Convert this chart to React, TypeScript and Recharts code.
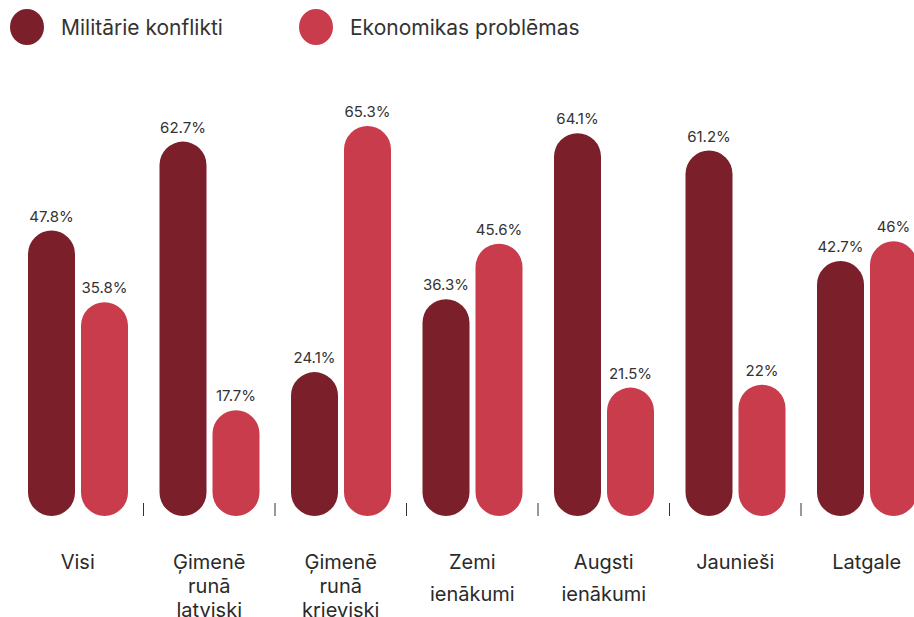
import React from 'react'
import { BarChart, Bar, XAxis, YAxis, LabelList } from 'recharts'

const categories = [
  'Visi',
  'Ģimenē runā latviski',
  'Ģimenē runā krieviski',
  'Zemi ienākumi',
  'Augsti ienākumi',
  'Jaunieši',
  'Latgale',
]
const military = [47.8, 62.7, 24.1, 36.3, 64.1, 61.2, 42.7]
const economic = [35.8, 17.7, 65.3, 45.6, 21.5, 22, 46]

const data = categories.map((name, i) => ({
  name,
  military: military[i],
  economic: economic[i],
}))

const DARK = '#7b1f2b'
const LIGHT = '#c93c4b'
const FONT = 'Inter, "Noto Sans", sans-serif'

const CHART_W = 936
const CHART_H = 617
const MARGIN = { top: 98, right: 3.5, bottom: 0, left: 12 }
const BAND = (CHART_W - MARGIN.left - MARGIN.right) / categories.length

function CategoryTick(props: any) {
  const { x, y, payload, index } = props
  const words = String(payload.value).split(' ')
  const lineH = words.length > 2 ? 24 : 32
  return (
    <g>
      {index < categories.length - 1 && (
        <line x1={x + BAND / 2} x2={x + BAND / 2} y1={y - 13} y2={y} stroke="#333" strokeWidth={1} />
      )}
      <text x={x} y={y + 53} textAnchor="middle" fill="#2a2a2a" fontSize={20} fontFamily={FONT}>
        {words.map((w, i) => (
          <tspan key={i} x={x} dy={i === 0 ? 0 : lineH}>
            {w}
          </tspan>
        ))}
      </text>
    </g>
  )
}

function LegendItem({ color, label, left }: { color: string; label: string; left: number }) {
  return (
    <div style={{ position: 'absolute', left, top: 9, display: 'flex', alignItems: 'center' }}>
      <span style={{ width: 34, height: 36, borderRadius: '50%', background: color, display: 'inline-block' }} />
      <span style={{ marginLeft: 17, fontSize: 21, color: '#333', fontFamily: FONT }}>{label}</span>
    </div>
  )
}

export default function App() {
  return (
    <div style={{ position: 'absolute', left: 0, top: 0, width: 914, height: 617, overflow: 'hidden', background: '#fff' }}>
      <LegendItem color={DARK} label="Militārie konflikti" left={10} />
      <LegendItem color={LIGHT} label="Ekonomikas problēmas" left={299} />
      <div style={{ position: 'absolute', left: 0, top: 0 }}>
        <BarChart width={CHART_W} height={CHART_H} data={data} margin={MARGIN} barCategoryGap={16} barGap={6}>
          <XAxis
            dataKey="name"
            axisLine={false}
            tickLine={false}
            tickSize={0}
            tickMargin={0}
            height={101}
            interval={0}
            tick={<CategoryTick />}
          />
          <YAxis hide domain={[0, 70]} />
          <Bar dataKey="military" name="Militārie konflikti" fill={DARK} radius={[24, 24, 24, 24]} isAnimationActive={false}>
            <LabelList dataKey="military" position="top" offset={9} formatter={(v: any) => `${v}%`} fontSize={15} fill="#333" fontFamily={FONT} />
          </Bar>
          <Bar dataKey="economic" name="Ekonomikas problēmas" fill={LIGHT} radius={[24, 24, 24, 24]} isAnimationActive={false}>
            <LabelList dataKey="economic" position="top" offset={9} formatter={(v: any) => `${v}%`} fontSize={15} fill="#333" fontFamily={FONT} />
          </Bar>
        </BarChart>
      </div>
    </div>
  )
}
